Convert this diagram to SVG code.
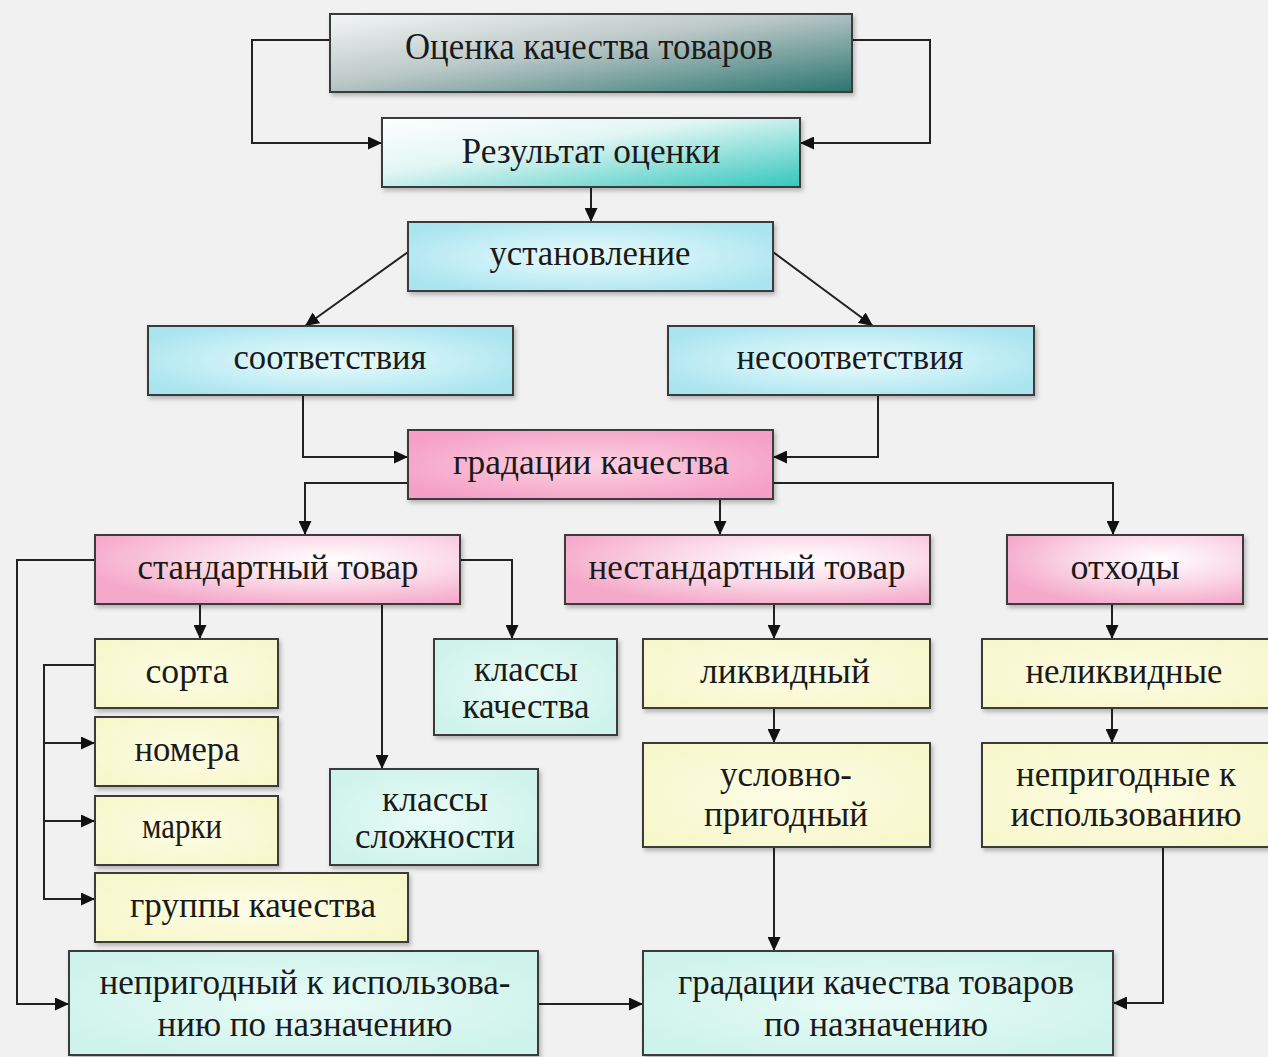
<svg xmlns="http://www.w3.org/2000/svg" width="1268" height="1057" viewBox="0 0 1268 1057">
<style>
.box{stroke:#3a3a3a;stroke-width:2}
.lbl{font-family:"Liberation Serif","Times New Roman",serif;font-size:35px;fill:#1a1a1a;text-anchor:middle}
.con{fill:none;stroke:#222;stroke-width:2}
</style>
<defs>
<linearGradient id="gTitle" x1="0" y1="0" x2="1" y2="1">
<stop offset="0" stop-color="#f4f6f6"/><stop offset="0.45" stop-color="#bcc8c8"/><stop offset="1" stop-color="#2a756f"/>
</linearGradient>
<linearGradient id="gResult" x1="0" y1="0" x2="1" y2="1">
<stop offset="0" stop-color="#ffffff"/><stop offset="0.4" stop-color="#e2f6f4"/><stop offset="1" stop-color="#33c7bd"/>
</linearGradient>
<radialGradient id="gCyan" cx="0.5" cy="0.5" r="0.6">
<stop offset="0" stop-color="#eafbfd"/><stop offset="0.6" stop-color="#c4eef5"/><stop offset="1" stop-color="#a9e4ef"/>
</radialGradient>
<radialGradient id="gPink" cx="0.5" cy="0.5" r="0.6">
<stop offset="0" stop-color="#fbd3e3"/><stop offset="1" stop-color="#f59fc4"/>
</radialGradient>
<radialGradient id="gPinkL" cx="0.65" cy="0.35" r="0.7">
<stop offset="0" stop-color="#ffffff"/><stop offset="0.5" stop-color="#fbd9e7"/><stop offset="1" stop-color="#f5a9ca"/>
</radialGradient>
<radialGradient id="gYel" cx="0.5" cy="0.5" r="0.6">
<stop offset="0" stop-color="#fdfde6"/><stop offset="1" stop-color="#f7f7cc"/>
</radialGradient>
<radialGradient id="gMint" cx="0.5" cy="0.5" r="0.6">
<stop offset="0" stop-color="#e9fbf7"/><stop offset="1" stop-color="#cdf3ea"/>
</radialGradient>
<filter id="sh" x="-5%" y="-10%" width="112%" height="130%">
<feDropShadow dx="2" dy="3" stdDeviation="2" flood-color="#000" flood-opacity="0.25"/>
</filter>
<marker id="ar" markerUnits="userSpaceOnUse" markerWidth="14" markerHeight="13" refX="14" refY="6.5" orient="auto">
<path d="M0,0 L14,6.5 L0,13 z" fill="#111"/>
</marker>
</defs>
<rect width="1268" height="1057" fill="#f1f1f1"/>

<g id="connectors">
<path class="con" d="M330,40 H252 V143 H382" marker-end="url(#ar)"/>
<path class="con" d="M852,40 H930 V143 H800" marker-end="url(#ar)"/>
<path class="con" d="M591,187 V222" marker-end="url(#ar)"/>
<path class="con" d="M408,252 L305,326" marker-end="url(#ar)"/>
<path class="con" d="M773,252 L873,326" marker-end="url(#ar)"/>
<path class="con" d="M303,395 V457 H408" marker-end="url(#ar)"/>
<path class="con" d="M878,395 V457 H773" marker-end="url(#ar)"/>
<path class="con" d="M408,483 H305 V535" marker-end="url(#ar)"/>
<path class="con" d="M720,499 V535" marker-end="url(#ar)"/>
<path class="con" d="M773,483 H1113 V535" marker-end="url(#ar)"/>
<path class="con" d="M95,560 H17 V1004 H69" marker-end="url(#ar)"/>
<path class="con" d="M200,604 V639" marker-end="url(#ar)"/>
<path class="con" d="M382,604 V769" marker-end="url(#ar)"/>
<path class="con" d="M460,560 H512 V639" marker-end="url(#ar)"/>
<path class="con" d="M95,665 H44 V899 H95" marker-end="url(#ar)"/>
<path class="con" d="M44,743 H95" marker-end="url(#ar)"/>
<path class="con" d="M44,821 H95" marker-end="url(#ar)"/>
<path class="con" d="M538,1004 H643" marker-end="url(#ar)"/>
<path class="con" d="M774,604 V639" marker-end="url(#ar)"/>
<path class="con" d="M774,709 V743" marker-end="url(#ar)"/>
<path class="con" d="M774,848 V951" marker-end="url(#ar)"/>
<path class="con" d="M1112,604 V639" marker-end="url(#ar)"/>
<path class="con" d="M1112,709 V743" marker-end="url(#ar)"/>
<path class="con" d="M1163,848 V1003 H1113" marker-end="url(#ar)"/>
</g>

<g id="n-title"><rect class="box" x="330" y="14" width="522" height="78" fill="url(#gTitle)" filter="url(#sh)"/>
<text class="lbl" x="589" y="59" style="font-size:38px" textLength="368" lengthAdjust="spacingAndGlyphs">Оценка качества товаров</text></g>
<g id="n-result"><rect class="box" x="382" y="118" width="418" height="69" fill="url(#gResult)" filter="url(#sh)"/>
<text class="lbl" x="591" y="163" textLength="259" lengthAdjust="spacingAndGlyphs">Результат оценки</text></g>
<g id="n-ustanovlenie"><rect class="box" x="408" y="222" width="365" height="69" fill="url(#gCyan)" filter="url(#sh)"/>
<text class="lbl" x="590" y="265" textLength="201" lengthAdjust="spacingAndGlyphs">установление</text></g>
<g id="n-sootvetstviya"><rect class="box" x="148" y="326" width="365" height="69" fill="url(#gCyan)" filter="url(#sh)"/>
<text class="lbl" x="330" y="369" textLength="193" lengthAdjust="spacingAndGlyphs">соответствия</text></g>
<g id="n-nesootvetstviya"><rect class="box" x="668" y="326" width="366" height="69" fill="url(#gCyan)" filter="url(#sh)"/>
<text class="lbl" x="850" y="369" textLength="227" lengthAdjust="spacingAndGlyphs">несоответствия</text></g>
<g id="n-gradacii"><rect class="box" x="408" y="430" width="365" height="69" fill="url(#gPink)" filter="url(#sh)"/>
<text class="lbl" x="591" y="474" textLength="276" lengthAdjust="spacingAndGlyphs">градации качества</text></g>
<g id="n-standart"><rect class="box" x="95" y="535" width="365" height="69" fill="url(#gPinkL)" filter="url(#sh)"/>
<text class="lbl" x="278" y="579" textLength="281" lengthAdjust="spacingAndGlyphs">стандартный товар</text></g>
<g id="n-nestandart"><rect class="box" x="565" y="535" width="365" height="69" fill="url(#gPinkL)" filter="url(#sh)"/>
<text class="lbl" x="747" y="579" textLength="317" lengthAdjust="spacingAndGlyphs">нестандартный товар</text></g>
<g id="n-othody"><rect class="box" x="1007" y="535" width="236" height="69" fill="url(#gPinkL)" filter="url(#sh)"/>
<text class="lbl" x="1125" y="579" textLength="109" lengthAdjust="spacingAndGlyphs">отходы</text></g>
<g id="n-sorta"><rect class="box" x="95" y="639" width="183" height="69" fill="url(#gYel)" filter="url(#sh)"/>
<text class="lbl" x="187" y="683" textLength="83" lengthAdjust="spacingAndGlyphs">сорта</text></g>
<g id="n-nomera"><rect class="box" x="95" y="717" width="183" height="69" fill="url(#gYel)" filter="url(#sh)"/>
<text class="lbl" x="187" y="761" textLength="105" lengthAdjust="spacingAndGlyphs">номера</text></g>
<g id="n-marki"><rect class="box" x="95" y="796" width="183" height="69" fill="url(#gYel)" filter="url(#sh)"/>
<text class="lbl" x="182" y="838" textLength="80" lengthAdjust="spacingAndGlyphs">марки</text></g>
<g id="n-gruppy"><rect class="box" x="95" y="873" width="313" height="69" fill="url(#gYel)" filter="url(#sh)"/>
<text class="lbl" x="253" y="917" textLength="246" lengthAdjust="spacingAndGlyphs">группы качества</text></g>
<g id="n-klassy-kach"><rect class="box" x="434" y="639" width="183" height="96" fill="url(#gMint)" filter="url(#sh)"/>
<text class="lbl" x="526" y="681" textLength="104" lengthAdjust="spacingAndGlyphs">классы</text>
<text class="lbl" x="526" y="718" textLength="127" lengthAdjust="spacingAndGlyphs">качества</text></g>
<g id="n-klassy-slozh"><rect class="box" x="330" y="769" width="208" height="96" fill="url(#gMint)" filter="url(#sh)"/>
<text class="lbl" x="435" y="811" textLength="106" lengthAdjust="spacingAndGlyphs">классы</text>
<text class="lbl" x="435" y="848" textLength="160" lengthAdjust="spacingAndGlyphs">сложности</text></g>
<g id="n-likvid"><rect class="box" x="643" y="639" width="287" height="69" fill="url(#gYel)" filter="url(#sh)"/>
<text class="lbl" x="785" y="683" textLength="170" lengthAdjust="spacingAndGlyphs">ликвидный</text></g>
<g id="n-uslovno"><rect class="box" x="643" y="743" width="287" height="104" fill="url(#gYel)" filter="url(#sh)"/>
<text class="lbl" x="786" y="786" textLength="132" lengthAdjust="spacingAndGlyphs">условно-</text>
<text class="lbl" x="786" y="826" textLength="164" lengthAdjust="spacingAndGlyphs">пригодный</text></g>
<g id="n-nelikvid"><rect class="box" x="982" y="639" width="292" height="69" fill="url(#gYel)" filter="url(#sh)"/>
<text class="lbl" x="1124" y="683" textLength="197" lengthAdjust="spacingAndGlyphs">неликвидные</text></g>
<g id="n-neprigodnye"><rect class="box" x="982" y="743" width="292" height="104" fill="url(#gYel)" filter="url(#sh)"/>
<text class="lbl" x="1126" y="786" textLength="220" lengthAdjust="spacingAndGlyphs">непригодные к</text>
<text class="lbl" x="1126" y="826" textLength="231" lengthAdjust="spacingAndGlyphs">использованию</text></g>
<g id="n-neprig-naznach"><rect class="box" x="69" y="951" width="469" height="104" fill="url(#gMint)" filter="url(#sh)"/>
<text class="lbl" x="305" y="994" textLength="411" lengthAdjust="spacingAndGlyphs">непригодный к использова-</text>
<text class="lbl" x="305" y="1036" textLength="295" lengthAdjust="spacingAndGlyphs">нию по назначению</text></g>
<g id="n-gradacii-tovarov"><rect class="box" x="643" y="951" width="470" height="104" fill="url(#gMint)" filter="url(#sh)"/>
<text class="lbl" x="876" y="994" textLength="396" lengthAdjust="spacingAndGlyphs">градации качества товаров</text>
<text class="lbl" x="876" y="1036" textLength="224" lengthAdjust="spacingAndGlyphs">по назначению</text></g>
</svg>
